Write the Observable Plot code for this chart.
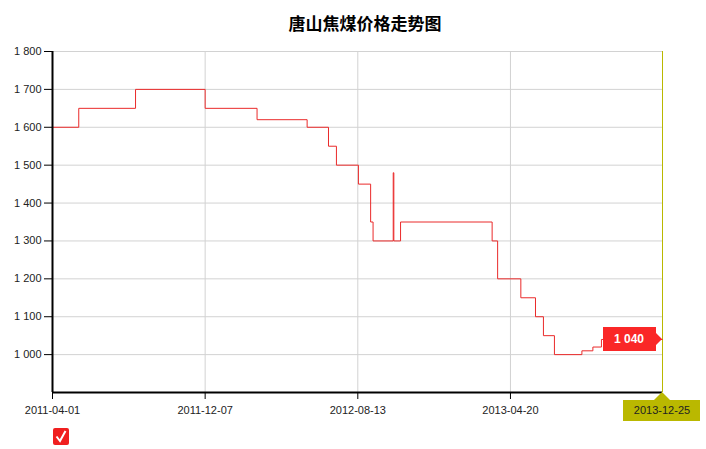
<!DOCTYPE html>
<html>
<head>
<meta charset="utf-8">
<script src="https://cdn.jsdelivr.net/npm/d3@7"></script>
<script src="https://cdn.jsdelivr.net/npm/@observablehq/plot@0.6"></script>
<style>
  body { margin: 0; background: #fff; }
  #title {
    width: 706px; height: 40px; box-sizing: border-box; padding: 10px 0 0 24px;
    text-align: center; line-height: 20px;
    font: bold 17px "Noto Sans CJK SC", sans-serif; color: #000;
  }
  #chart svg { display: block; }
  #legend { height: 25px; padding: 4px 0 0 53px; box-sizing: border-box; }
</style>
</head>
<body>
<div id="title">唐山焦煤价格走势图</div>
<div id="chart"></div>
<div id="legend">
  <svg width="16" height="17" viewBox="0 0 16 17">
    <rect x="0" y="0" width="16" height="17" rx="2" fill="#f01f1f"></rect>
    <path d="M3.5 8.5 L7 13 L12.5 3" fill="none" stroke="#fff" stroke-width="2"></path>
  </svg>
</div>
<script>
// Tangshan coking coal price (yuan/t): dates where the price changes, and the price from that date on
const dates = [
  "2011-04-01", "2011-05-14", "2011-08-15", "2011-12-07", "2012-03-01", "2012-05-22",
  "2012-06-26", "2012-07-09", "2012-08-14", "2012-09-03", "2012-09-07", "2012-10-10",
  "2012-10-11", "2012-10-22", "2013-03-21", "2013-03-30", "2013-05-07", "2013-05-31",
  "2013-06-13", "2013-07-01", "2013-08-15", "2013-09-02", "2013-09-16", "2013-12-25"
];
const prices = [
  1600, 1650, 1700, 1650, 1620, 1600,
  1550, 1500, 1450, 1350, 1300, 1480,
  1300, 1350, 1300, 1200, 1150, 1100,
  1050, 1000, 1010, 1020, 1040, 1040
];
const xTickLabels = ["2011-04-01", "2011-12-07", "2012-08-13", "2013-04-20"];
const yTickValues = [1000, 1100, 1200, 1300, 1400, 1500, 1600, 1700, 1800];
const yDomain = [900, 1800];

const parse = d3.utcParse("%Y-%m-%d");
const series = dates.map((d, i) => ({date: parse(d), price: prices[i]}));
const xTicks = xTickLabels.map(parse);
const last = series[series.length - 1];
const fmtNum = d3.formatLocale({decimal: ".", thousands: " ", grouping: [3], currency: ["", ""]}).format(",");
const fmtDate = d3.utcFormat("%Y-%m-%d");

// crosshair callouts at the latest point: value flag on the line, date flag under the axis
function callouts(index, {x, y}) {
  const g = d3.create("svg:g");
  const px = x(last.date), py = y(last.price), by = y(yDomain[0]);
  // value flag pointing at the last price
  g.append("path")
    .attr("d", `M${px - 59},${py - 12}H${px - 6}V${py - 6}L${px},${py}L${px - 6},${py + 6}V${py + 12}H${px - 59}Z`)
    .attr("fill", "#fa2727");
  g.append("text")
    .attr("x", px - 33).attr("y", py).attr("dy", "0.36em")
    .attr("text-anchor", "middle").attr("fill", "#fff")
    .attr("font-family", "Liberation Sans, sans-serif").attr("font-weight", "bold").attr("font-size", 12)
    .text(fmtNum(last.price));
  // date flag under the x axis
  g.append("path")
    .attr("d", `M${px},${by}L${px + 8},${by + 8}H${px + 38}V${by + 29}H${px - 39}V${by + 8}H${px - 8}Z`)
    .attr("fill", "#bab800");
  g.append("text")
    .attr("x", px).attr("y", by + 18.5).attr("dy", "0.36em")
    .attr("text-anchor", "middle").attr("fill", "#222")
    .attr("font-family", "Liberation Sans, sans-serif").attr("font-size", 11)
    .text(fmtDate(last.date));
  return g.node();
}

const chart = Plot.plot({
  width: 706,
  height: 384,
  marginLeft: 52,
  marginRight: 44,
  marginTop: 11,
  marginBottom: 32,
  style: {fontFamily: "Liberation Sans, sans-serif", fontSize: "11px", color: "#222", background: "#fff"},
  x: {type: "utc", domain: [series[0].date, last.date]},
  y: {domain: yDomain},
  marks: [
    Plot.ruleY(yTickValues, {stroke: "#d2d2d2", strokeWidth: 1}),
    Plot.ruleX(xTicks.slice(1), {stroke: "#d2d2d2", strokeWidth: 1}),
    Plot.ruleX([last.date], {stroke: "#bab800", strokeWidth: 1}),
    Plot.line(series, {x: "date", y: "price", curve: "step-after", stroke: "#ea2a2a", strokeWidth: 1}),
    Plot.axisY({ticks: yTickValues, tickFormat: fmtNum, tickSize: 8, tickPadding: 3, label: null, stroke: "#000"}),
    Plot.axisX({ticks: xTicks, tickFormat: fmtDate, tickSize: 7, tickPadding: 7, label: null, stroke: "#000"}),
    Plot.ruleX([series[0].date], {stroke: "#000", strokeWidth: 2}),
    Plot.ruleY([yDomain[0]], {stroke: "#000", strokeWidth: 2}),
    callouts
  ]
});
document.getElementById("chart").append(chart);
</script>
</body>
</html>
